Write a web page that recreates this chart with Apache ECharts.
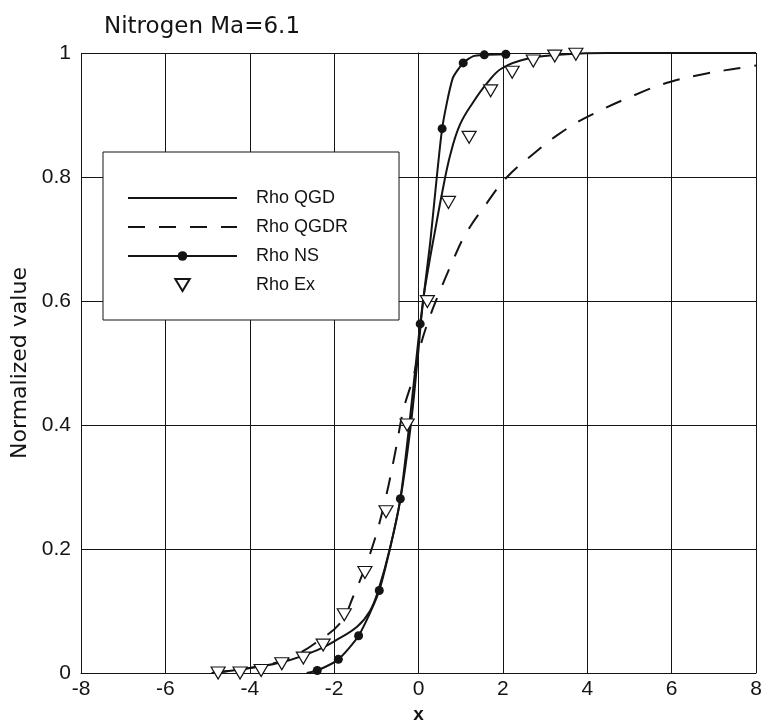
<!DOCTYPE html>
<html lang="en">
<head>
    <meta charset="UTF-8">
    <title>Nitrogen Ma=6.1</title>
    <script src="https://cdn.jsdelivr.net/npm/echarts@6/dist/echarts.min.js"></script>
    <style>
        html, body { margin: 0; padding: 0; background: #fff; }
        #chart { width: 763px; height: 721px; }
    </style>
</head>
<body>
    <div id="chart"></div>
    <script>
        // values
        var xTicks = [-8, -6, -4, -2, 0, 2, 4, 6, 8];
        var yTicks = [0, 0.2, 0.4, 0.6, 0.8, 1];

        // Rho QGD (solid)
        var qgdX = [-4.9, -4, -3.2, -2.4, -1.95, -1.45, -1.15, -0.95, -0.68, -0.43, -0.2, -0.03, 0.11, 0.25, 0.37, 0.55, 0.75, 0.98, 1.3, 1.62, 1.97, 2.6, 3.5, 4.5, 8];
        var qgdY = [0, 0.008, 0.018, 0.037, 0.053, 0.075, 0.10, 0.134, 0.2, 0.28, 0.39, 0.5, 0.6, 0.66, 0.705, 0.771, 0.835, 0.884, 0.921, 0.951, 0.975, 0.991, 0.998, 1, 1];

        // Rho QGDR (dashed)
        var qgdrX = [-4.9, -4, -3.2, -2.77, -2.45, -1.86, -1.55, -1.11, -0.79, -0.54, -0.36, -0.12, 0.04, 0.27, 0.55, 0.79, 1.1, 1.62, 2.1, 2.72, 3.3, 4.0, 5.33, 6.0, 6.83, 7.54, 8];
        var qgdrY = [0, 0.008, 0.02, 0.034, 0.048, 0.08, 0.123, 0.2, 0.279, 0.36, 0.424, 0.478, 0.526, 0.575, 0.623, 0.661, 0.706, 0.758, 0.80, 0.837, 0.868, 0.897, 0.938, 0.954, 0.967, 0.975, 0.98];

        // Rho NS (solid with dots); nsDot marks the points that carry a dot
        var nsX = [-2.65, -2.4, -1.9, -1.42, -0.93, -0.43, 0.04, 0.27, 0.56, 0.81, 1.06, 1.3, 1.56, 2.07];
        var nsY = [0, 0.004, 0.022, 0.06, 0.133, 0.281, 0.563, 0.69, 0.878, 0.959, 0.984, 0.995, 0.997, 0.998];
        var nsDot = [false, true, true, true, true, true, true, false, true, false, true, false, true, true];

        // Rho Ex (open triangles)
        var exX = [-4.75, -4.23, -3.73, -3.24, -2.73, -2.26, -1.76, -1.27, -0.77, -0.27, 0.21, 0.71, 1.2, 1.71, 2.22, 2.72, 3.23, 3.73];
        var exY = [0, 0, 0.004, 0.015, 0.024, 0.045, 0.094, 0.162, 0.26, 0.4, 0.599, 0.759, 0.864, 0.939, 0.969, 0.987, 0.995, 0.998];

        function pairs(xs, ys) {
            return xs.map(function (x, i) { return [x, ys[i]]; });
        }

        var ink = '#141414';
        var font = 'Liberation Sans, Arial, sans-serif';
        var wide = 'DejaVu Sans, sans-serif';
        var downTri = 'path://M0,0L12,0L6,10Z';

        var myChart = echarts.init(document.getElementById('chart'));

        var option = {
            backgroundColor: '#fff',
            animation: false,
            title: {
                text: 'Nitrogen Ma=6.1',
                left: 99,
                top: 11,
                textStyle: { color: ink, fontSize: 23, fontWeight: 'normal', fontFamily: wide }
            },
            grid: {
                left: 81,
                right: 7,
                top: 53,
                bottom: 48,
                containLabel: false,
                outerBoundsMode: 'none'
            },
            legend: {
                orient: 'vertical',
                left: 103,
                top: 152,
                padding: [36, 51, 25, 24],
                itemWidth: 109,
                itemHeight: 12,
                itemGap: 9,
                backgroundColor: '#fff',
                borderColor: ink,
                borderWidth: 1,
                borderRadius: 0,
                textStyle: { color: ink, fontSize: 18, fontFamily: font, lineHeight: 20, padding: [0, 0, 0, 14] },
                data: [
                    { name: 'Rho QGD', itemStyle: { opacity: 0 } },
                    { name: 'Rho QGDR', itemStyle: { opacity: 0 } },
                    { name: 'Rho NS' },
                    { name: 'Rho Ex', icon: downTri }
                ]
            },
            xAxis: {
                type: 'value',
                min: -8,
                max: 8,
                interval: 2,
                name: 'x',
                nameLocation: 'middle',
                nameGap: 23,
                nameTextStyle: { color: ink, fontSize: 19, fontWeight: 'bold', fontFamily: font },
                axisLine: { show: true, lineStyle: { color: ink, width: 1 } },
                axisTick: { show: false },
                axisLabel: {
                    color: ink, fontSize: 21, fontFamily: font, margin: 6,
                    formatter: function (v) { return xTicks.indexOf(v) >= 0 ? String(v) : ''; }
                },
                splitLine: { show: true, lineStyle: { color: ink, width: 1 } }
            },
            yAxis: {
                type: 'value',
                min: 0,
                max: 1,
                interval: 0.2,
                name: 'Normalized value',
                nameLocation: 'middle',
                nameGap: 50,
                nameTextStyle: { color: ink, fontSize: 22, fontFamily: wide },
                axisLine: { show: true, lineStyle: { color: ink, width: 1 } },
                axisTick: { show: false },
                axisLabel: {
                    color: ink, fontSize: 21, fontFamily: font, margin: 10,
                    formatter: function (v) {
                        var t = yTicks.filter(function (y) { return Math.abs(y - v) < 1e-9; });
                        return t.length ? String(t[0]) : '';
                    }
                },
                splitLine: { show: true, lineStyle: { color: ink, width: 1 } }
            },
            series: [
                {
                    name: 'Rho QGD',
                    type: 'line',
                    symbol: 'none',
                    smooth: 0.4,
                    color: ink,
                    lineStyle: { color: ink, width: 2 },
                    data: pairs(qgdX, qgdY),
                    z: 3
                },
                {
                    name: 'Rho QGDR',
                    type: 'line',
                    symbol: 'none',
                    smooth: 0.4,
                    color: ink,
                    lineStyle: { color: ink, width: 2, type: [17, 14] },
                    data: pairs(qgdrX, qgdrY),
                    z: 3
                },
                {
                    name: 'Rho NS',
                    type: 'line',
                    symbol: 'circle',
                    symbolSize: 9,
                    showAllSymbol: true,
                    smooth: 0.2,
                    color: ink,
                    itemStyle: { color: ink },
                    lineStyle: { color: ink, width: 2 },
                    data: nsX.map(function (x, i) {
                        return nsDot[i] ? [x, nsY[i]] : { value: [x, nsY[i]], symbol: 'none' };
                    }),
                    z: 4
                },
                {
                    name: 'Rho Ex',
                    type: 'scatter',
                    symbol: downTri,
                    symbolSize: [14, 12],
                    symbolKeepAspect: false,
                    color: ink,
                    itemStyle: { color: '#fff', borderColor: ink, borderWidth: 1.2, opacity: 1 },
                    data: pairs(exX, exY),
                    z: 5
                }
            ]
        };

        myChart.setOption(option);
    </script>
</body>
</html>
